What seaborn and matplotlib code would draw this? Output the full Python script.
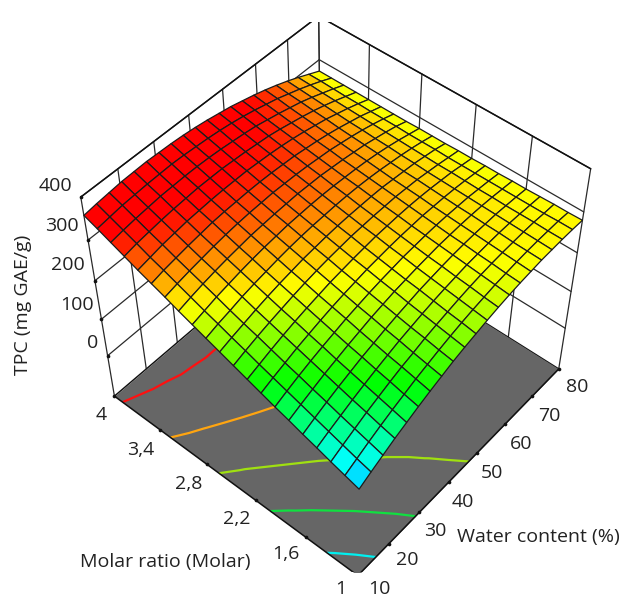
import numpy as np
import matplotlib
matplotlib.use("Agg")
import matplotlib.pyplot as plt
import seaborn as sns

sns.set_theme(style="white")
plt.rcParams["font.family"] = "Open Sans"

# surface grid
water_grid = [10, 13.5, 17, 20.5, 24, 27.5, 31, 34.5, 38, 41.5, 45, 48.5, 52, 55.5, 59, 62.5, 66, 69.5, 73, 76.5, 80]
molar_grid = [1, 1.15, 1.3, 1.45, 1.6, 1.75, 1.9, 2.05, 2.2, 2.35, 2.5, 2.65, 2.8, 2.95, 3.1, 3.25, 3.4, 3.55, 3.7, 3.85, 4]

# TPC, one row per molar ratio
tpc = [
    [138, 153, 167, 181, 193, 205, 216, 226, 236, 244, 251, 258, 264, 269, 273, 276, 279, 280, 281, 281, 280],
    [148, 162, 176, 189, 201, 212, 223, 232, 241, 249, 256, 262, 267, 272, 275, 278, 280, 281, 281, 281, 279],
    [158, 172, 185, 198, 209, 220, 230, 238, 247, 254, 260, 266, 271, 275, 278, 280, 281, 282, 282, 280, 279],
    [169, 182, 194, 206, 217, 227, 236, 245, 252, 259, 265, 270, 274, 278, 280, 282, 283, 283, 282, 280, 278],
    [179, 192, 204, 215, 225, 235, 243, 251, 258, 264, 270, 274, 278, 281, 283, 284, 284, 284, 282, 280, 277],
    [190, 202, 213, 224, 233, 242, 250, 258, 264, 270, 274, 278, 281, 284, 285, 286, 286, 285, 283, 280, 277],
    [200, 212, 223, 233, 242, 250, 258, 264, 270, 275, 279, 283, 285, 287, 288, 288, 287, 286, 283, 280, 276],
    [211, 222, 232, 242, 250, 258, 265, 271, 276, 281, 284, 287, 289, 290, 291, 290, 289, 287, 284, 280, 276],
    [222, 232, 242, 251, 259, 266, 272, 278, 282, 286, 289, 292, 293, 294, 294, 293, 291, 288, 285, 280, 275],
    [233, 243, 252, 260, 267, 274, 280, 285, 289, 292, 295, 296, 297, 297, 297, 295, 293, 289, 285, 280, 275],
    [244, 253, 261, 269, 276, 282, 287, 292, 295, 298, 300, 301, 301, 301, 300, 297, 294, 291, 286, 281, 274],
    [255, 264, 271, 279, 285, 290, 295, 299, 302, 304, 305, 306, 306, 305, 303, 300, 296, 292, 287, 281, 274],
    [266, 274, 282, 288, 294, 299, 303, 306, 309, 310, 311, 311, 310, 308, 306, 303, 299, 294, 288, 281, 274],
    [277, 285, 292, 298, 303, 307, 311, 313, 315, 316, 317, 316, 315, 312, 309, 305, 301, 295, 289, 282, 273],
    [289, 296, 302, 307, 312, 316, 319, 321, 322, 323, 322, 321, 319, 316, 313, 308, 303, 297, 290, 282, 273],
    [300, 307, 312, 317, 321, 325, 327, 328, 329, 329, 328, 326, 324, 320, 316, 311, 305, 298, 291, 282, 273],
    [311, 317, 323, 327, 331, 333, 335, 336, 336, 336, 334, 332, 329, 325, 320, 314, 308, 300, 292, 283, 273],
    [323, 329, 333, 337, 340, 342, 344, 344, 344, 342, 340, 337, 334, 329, 323, 317, 310, 302, 293, 283, 273],
    [335, 340, 344, 347, 350, 351, 352, 352, 351, 349, 346, 343, 339, 333, 327, 320, 313, 304, 294, 284, 273],
    [347, 351, 355, 357, 359, 360, 361, 360, 358, 356, 353, 349, 344, 338, 331, 324, 315, 306, 296, 285, 273],
    [358, 362, 365, 368, 369, 370, 369, 368, 366, 363, 359, 354, 349, 342, 335, 327, 318, 308, 297, 285, 273],
]

water_ticks = [10, 20, 30, 40, 50, 60, 70, 80]
molar_ticks = [1, 1.6, 2.2, 2.8, 3.4, 4]
molar_labels = ["1", "1,6", "2,2", "2,8", "3,4", "4"]
tpc_ticks = [0, 100, 200, 300, 400]
contour_levels = [162, 209, 255, 301, 350]
contour_colors = ["#00f0f0", "#10e040", "#a0e010", "#ffa510", "#ff1010"]
Z_FLOOR = -117
Z_TOP = 400

water_label_xy = [(379, 589), (407, 560), (435, 531), (463, 502), (492, 473), (521, 444), (549, 416), (577, 387)]
molar_label_xy = [(341, 589), (286, 554), (237, 519), (189, 484), (141, 450), (101, 415)]
tpc_label_xy = [(93, 343), (77, 305), (68, 265), (62, 226), (55, 186)]

W, H = 622, 598
fig = plt.figure(figsize=(W / 100, H / 100), dpi=100)
ax = fig.add_axes([55.76 / W, 26.46 / H, 549.24 / W, 549.24 / H], projection="3d", computed_zorder=False)
ax.set_xlim(10, 80, view_margin=0)
ax.set_ylim(1, 4, view_margin=0)
ax.set_zlim(Z_FLOOR, Z_TOP, view_margin=0)
ax.view_init(elev=49.43, azim=-139.418, roll=0.115)
ax.set_proj_type("persp", focal_length=0.5683)
ax.set_box_aspect((1, 1.0056, 0.9099), zoom=1)
ax.set_axis_off()

line_color = "#2a2a2a"

# back walls
for z in tpc_ticks:
    ax.plot([10, 80], [4, 4], [z, z], color=line_color, lw=0.9, zorder=1)
    ax.plot([80, 80], [4, 1], [z, z], color=line_color, lw=0.9, zorder=1)
for x in water_ticks:
    ax.plot([x, x], [4, 4], [Z_FLOOR, Z_TOP], color=line_color, lw=0.9, zorder=1)
for y in molar_ticks:
    ax.plot([80, 80], [y, y], [Z_FLOOR, Z_TOP], color=line_color, lw=0.9, zorder=1)
ax.plot([10, 80, 80], [4, 4, 1], [Z_TOP, Z_TOP, Z_TOP], color="#111111", lw=1.1, zorder=1)

# floor with the contours on it
floor_x, floor_y = np.meshgrid([10, 80], [1, 4])
ax.plot_surface(floor_x, floor_y, np.full((2, 2), Z_FLOOR), color="#666666", shade=False, linewidth=0, zorder=2)
X, Y = np.meshgrid(water_grid, molar_grid)
Z = np.array(tpc, dtype=float)
ax.contour(X, Y, Z, levels=contour_levels, colors=contour_colors, zdir="z", offset=Z_FLOOR, linewidths=1.6, zorder=3)
ax.plot([10, 10, 80], [4, 1, 1], [Z_FLOOR, Z_FLOOR, Z_FLOOR], color="#111111", lw=1.1, zorder=4)
ax.plot([10, 80, 80], [4, 4, 1], [Z_FLOOR, Z_FLOOR, Z_FLOOR], color="#111111", lw=1.1, zorder=1.5)

# response surface
cmap = sns.blend_palette(["#0000ff", "#00ffff", "#00ff00", "#ffff00", "#ff0000"], n_colors=256, as_cmap=True)
ax.plot_surface(X, Y, Z, rstride=1, cstride=1, cmap=cmap, vmin=97, vmax=340, shade=False,
                edgecolor="#1c1c1c", linewidth=0.9, antialiased=True, zorder=5)

# tick dots
dot = dict(color="#111111", s=7, depthshade=False, zorder=6, linewidths=0)
ax.scatter(water_ticks, [1] * len(water_ticks), [Z_FLOOR] * len(water_ticks), **dot)
ax.scatter([10] * len(molar_ticks), molar_ticks, [Z_FLOOR] * len(molar_ticks), **dot)
ax.scatter([10] * len(tpc_ticks), [4] * len(tpc_ticks), tpc_ticks, **dot)

# labels
text_color = "#222222"
FS = 14


def label(s, xy, **kw):
    fig.text(xy[0] / W, 1 - xy[1] / H, s, ha="center", va="center", fontsize=FS, color=text_color, **kw)


for t, xy in zip(water_ticks, water_label_xy):
    label(str(t), xy)
for t, xy in zip(molar_labels, molar_label_xy):
    label(t, xy)
for t, xy in zip(tpc_ticks, tpc_label_xy):
    label(str(t), xy)
label("Water content (%)", (538, 537))
label("Molar ratio (Molar)", (165, 562))
label("TPC (mg GAE/g)", (23, 305), rotation=90)

fig.savefig("out.png", dpi=100)
